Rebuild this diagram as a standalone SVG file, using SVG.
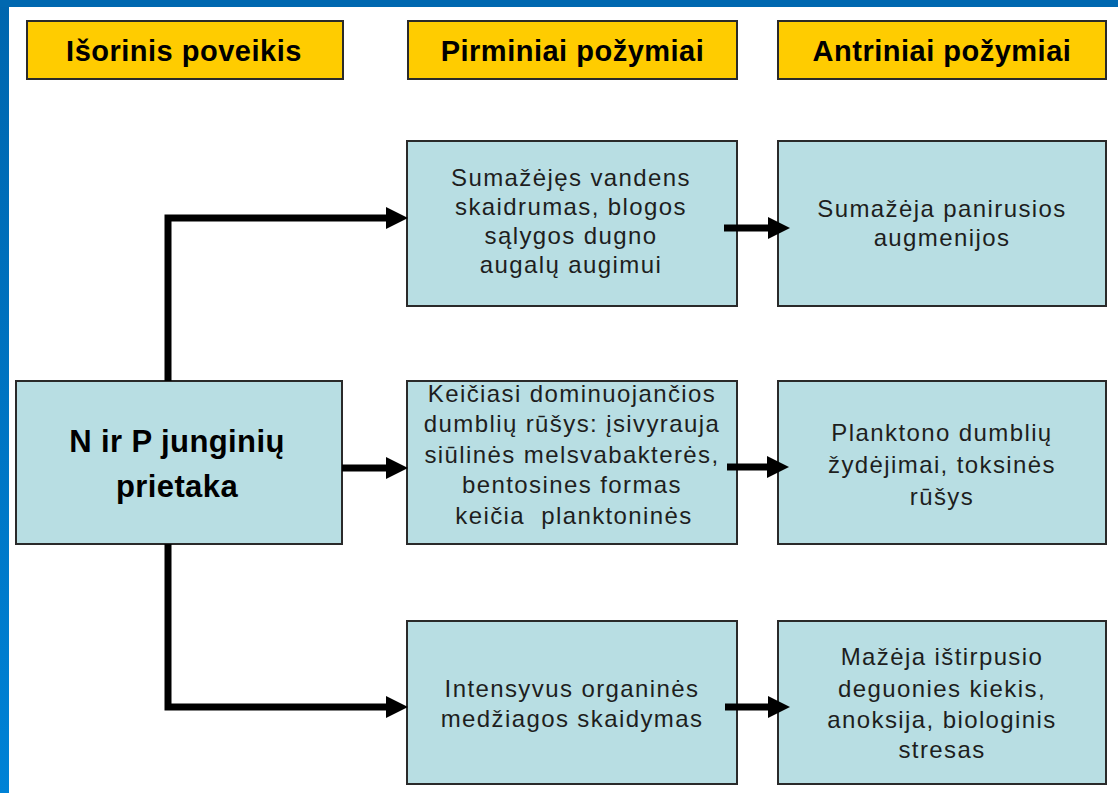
<svg xmlns="http://www.w3.org/2000/svg" width="1118" height="793" viewBox="0 0 1118 793">
<defs>
<linearGradient id="frameGrad" x1="0" y1="0" x2="0" y2="1">
<stop offset="0" stop-color="#0066AE"/>
<stop offset="1" stop-color="#0082D6"/>
</linearGradient>
<marker id="arrow" markerUnits="userSpaceOnUse" markerWidth="24" markerHeight="24" refX="0" refY="11" orient="auto">
<path d="M0,0 L22,11 L0,22 z" fill="#000"/>
</marker>
<style>
.hdr rect{fill:#FFCC00;stroke:#2a2a2a;stroke-width:2}
.hdr text{font-family:"Liberation Sans",Arial,sans-serif;font-weight:bold;font-size:29px;fill:#000;text-anchor:middle;letter-spacing:0.5px}
.box rect{fill:#B8DEE3;stroke:#2a2a2a;stroke-width:2}
.box text{font-family:"Liberation Sans",Arial,sans-serif;font-size:24px;fill:#1e1e1e;text-anchor:middle;letter-spacing:1.4px;white-space:pre}
.box text.big{font-weight:bold;font-size:31px;fill:#000;letter-spacing:0.4px}
.conn path{fill:none;stroke:#000;stroke-width:7;stroke-linejoin:miter}
</style>
</defs>
<rect x="0" y="0" width="1118" height="793" fill="#FFFFFF"/>
<rect x="0" y="0" width="9" height="793" fill="url(#frameGrad)"/>
<rect x="0" y="0" width="1118" height="7" fill="#0068B0"/>

<g id="hdr-external" class="hdr">
<rect x="27" y="21" width="316" height="58"/>
<text x="184" y="61">Išorinis poveikis</text>
</g>
<g id="hdr-primary" class="hdr">
<rect x="408" y="21" width="329" height="58"/>
<text x="572.5" y="61">Pirminiai požymiai</text>
</g>
<g id="hdr-secondary" class="hdr">
<rect x="778" y="21" width="328" height="58"/>
<text x="942" y="61">Antriniai požymiai</text>
</g>

<g id="node-source" class="box">
<rect x="16" y="381" width="326" height="163"/>
<text class="big" x="177" y="452">N ir P junginių</text>
<text class="big" x="177" y="497">prietaka</text>
</g>

<g id="node-p1" class="box">
<rect x="407" y="141" width="330" height="165"/>
<text x="571" y="186">Sumažėjęs vandens</text>
<text x="571" y="215">skaidrumas, blogos</text>
<text x="571" y="244">sąlygos dugno</text>
<text x="571" y="273">augalų augimui</text>
</g>
<g id="node-p2" class="box">
<rect x="407" y="381" width="330" height="163"/>
<text x="572" y="402">Keičiasi dominuojančios</text>
<text x="572" y="432">dumblių rūšys: įsivyrauja</text>
<text x="572" y="463">siūlinės melsvabakterės,</text>
<text x="572" y="493">bentosines formas</text>
<text x="574" y="524">keičia  planktoninės</text>
</g>
<g id="node-p3" class="box">
<rect x="407" y="621" width="330" height="163"/>
<text x="572" y="697">Intensyvus organinės</text>
<text x="572" y="727">medžiagos skaidymas</text>
</g>

<g id="node-s1" class="box">
<rect x="778" y="141" width="328" height="165"/>
<text x="942" y="217">Sumažėja panirusios</text>
<text x="942" y="246">augmenijos</text>
</g>
<g id="node-s2" class="box">
<rect x="778" y="381" width="328" height="163"/>
<text x="942" y="441">Planktono dumblių</text>
<text x="942" y="473">žydėjimai, toksinės</text>
<text x="942" y="505">rūšys</text>
</g>
<g id="node-s3" class="box">
<rect x="778" y="621" width="328" height="163"/>
<text x="942" y="665">Mažėja ištirpusio</text>
<text x="942" y="697">deguonies kiekis,</text>
<text x="942" y="728">anoksija, biologinis</text>
<text x="942" y="758">stresas</text>
</g>

<g id="connectors" class="conn">
<path d="M168,381 V218 H386" marker-end="url(#arrow)"/>
<path d="M342,468 H386" marker-end="url(#arrow)"/>
<path d="M168,544 V707 H386" marker-end="url(#arrow)"/>
<path d="M724,228 H768" marker-end="url(#arrow)"/>
<path d="M727,467 H767" marker-end="url(#arrow)"/>
<path d="M725,707 H768" marker-end="url(#arrow)"/>
</g>
</svg>
